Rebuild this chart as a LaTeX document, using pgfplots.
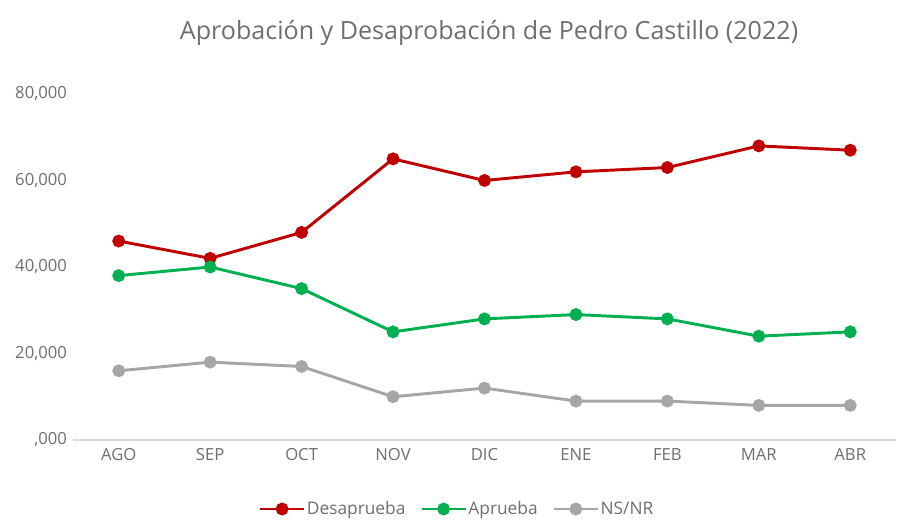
\documentclass[border=0pt]{standalone}
\usepackage{pgfplots}
\pgfplotsset{compat=1.18}
\usepackage{fontspec}
\setmainfont{Open Sans}
\definecolor{cRed}{RGB}{192,0,0}
\definecolor{cGreen}{RGB}{0,176,80}
\definecolor{cGray}{RGB}{166,166,166}
\definecolor{cText}{RGB}{110,110,110}
\definecolor{cAxis}{RGB}{217,217,217}
\begin{document}
\begin{tikzpicture}
\path[use as bounding box] (-54.75pt,-67.5pt) rectangle (618pt,330pt);
\begin{axis}[
  at={(0,0)}, anchor=south west,
  scale only axis,
  width=617.25pt, height=259.5pt,
  xmin=-0.5, xmax=8.5, ymin=0, ymax=80000,
  axis x line*=bottom, axis y line*=left,
  x axis line style={draw=cAxis, line width=1pt, -},
  y axis line style={draw=none},
  major tick length=0pt,
  scaled y ticks=false,
  xtick={0,...,8},
  xticklabels={AGO,SEP,OCT,NOV,DIC,ENE,FEB,MAR,ABR},
  ytick={0,20000,40000,60000,80000},
  yticklabels={{,000},{20,000},{40,000},{60,000},{80,000}},
  tick label style={font=\fontsize{12.5}{15}\selectfont, text=cText},
  xticklabel style={yshift=-3pt},
  yticklabel style={xshift=-1pt},
  legend columns=3,
  legend style={draw=none, fill=none, at={(0.467,-51.75pt)}, anchor=center,
    font=\fontsize{13}{15}\selectfont, text=cText,
    /tikz/every even column/.append style={column sep=9pt},
    /tikz/every odd column/.append style={column sep=-1pt}},
  legend image code/.code={
    \draw[mark repeat=2,mark phase=2,#1] plot coordinates {(0pt,0pt) (16.5pt,0pt) (33pt,0pt)};
  },
  legend image post style={line width=2.2pt},
  every axis plot/.append style={line width=2.2pt, mark=*, mark size=3.7pt},
  clip=false,
]
\addplot[color=cRed, mark options={fill=cRed, draw=cRed}] coordinates {
  (0,46000) (1,42000) (2,48000) (3,65000) (4,60000) (5,62000) (6,63000) (7,68000) (8,67000)};
\addlegendentry{Desaprueba}
\addplot[color=cGreen, mark options={fill=cGreen, draw=cGreen}] coordinates {
  (0,38000) (1,40000) (2,35000) (3,25000) (4,28000) (5,29000) (6,28000) (7,24000) (8,25000)};
\addlegendentry{Aprueba}
\addplot[color=cGray, mark options={fill=cGray, draw=cGray}] coordinates {
  (0,16000) (1,18000) (2,17000) (3,10000) (4,12000) (5,9000) (6,9000) (7,8000) (8,8000)};
\addlegendentry{NS/NR}
\node[font=\fontsize{18.8}{22}\selectfont, text=cText] at (axis cs:4.05,0) [yshift=305.25pt] {Aprobación y Desaprobación de Pedro Castillo (2022)};
\end{axis}
\end{tikzpicture}
\end{document}
